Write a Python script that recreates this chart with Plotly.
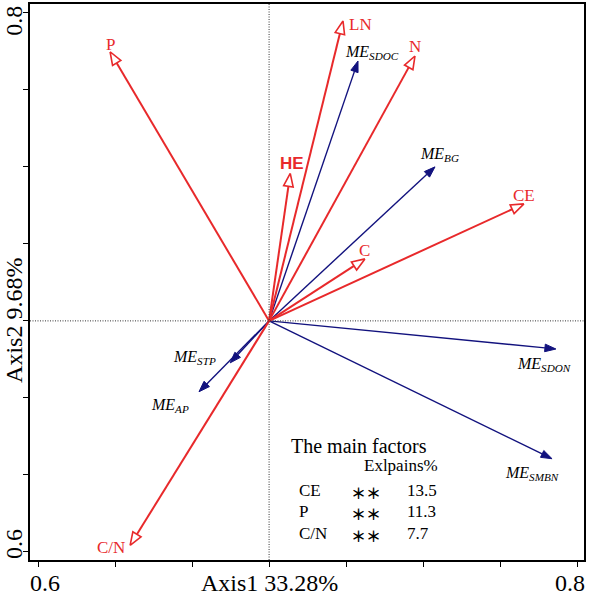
import numpy as np
import plotly.graph_objects as go

# ---------------- data ----------------
env_names = ["P", "LN", "N", "HE", "CE", "C", "C/N"]
env_x = [-0.413, 0.192, 0.379, 0.055, 0.662, 0.249, -0.361]
env_y = [0.699, 0.779, 0.688, 0.383, 0.304, 0.161, -0.583]

resp_names = ["SDOC", "BG", "SDON", "SMBN", "STP", "AP"]
resp_x = [0.231, 0.431, 0.745, 0.735, -0.101, -0.182]
resp_y = [0.675, 0.400, -0.073, -0.358, -0.109, -0.184]

x_ticks = [-0.6, -0.4, -0.2, 0.0, 0.2, 0.4, 0.6, 0.8]
x_ticktext = ["0.6", "", "", "", "", "", "", "0.8"]
y_ticks = [-0.6, -0.4, -0.2, 0.0, 0.2, 0.4, 0.6, 0.8]
y_ticktext = ["0.6", "", "", "", "", "", "", "0.8"]

x_title = "Axis1 33.28%"
y_title = "Axis2 9.68%"

table_title = "The main factors"
table_header = "Exlpains%"
table_factors = ["CE", "P", "C/N"]
table_sig = ["＊＊", "＊＊", "＊＊"]
table_explains = ["13.5", "11.3", "7.7"]

# ---------------- styling ----------------
RED = "#e8292b"
BLUE = "#12127e"
SERIF = "Liberation Serif"
W, H = 590, 599
ML, MR, MT, MB = 30, 6, 4, 39
XR = [-0.621, 0.818]
YR = [-0.621, 0.823]
PX = (W - ML - MR) / (XR[1] - XR[0])  # px per data unit

# label offsets (px, right/down positive) relative to arrow tip
env_off = {"P": (0, -7), "LN": (17, 4), "N": (0, -9), "HE": (2, -10),
           "CE": (0, -8), "C": (0, -8), "C/N": (-19, 2)}
resp_off = {"SDOC": (14, -8), "BG": (4, -12), "SDON": (-12, 15),
            "SMBN": (-20, 15), "STP": (-36, -5), "AP": (-29, 14)}

fig = go.Figure()


def head(x, y, L, hw):
    v = np.array([x, y])
    n = np.linalg.norm(v)
    u = v / n
    p = np.array([-u[1], u[0]])
    Ld, hd = L / PX, hw / PX
    base = v - Ld * u
    a = base + hd * p
    b = base - hd * p
    return base, [x, a[0], b[0], x], [y, a[1], b[1], y]


# dotted axes through origin
fig.add_shape(type="line", xref="x", yref="paper", x0=0, x1=0, y0=0, y1=1,
              line=dict(color="#333", width=1, dash="1px,1.5px"))
fig.add_shape(type="line", xref="paper", yref="y", x0=0, x1=1, y0=0, y1=0,
              line=dict(color="#333", width=1, dash="1px,1.5px"))

# response (blue, filled heads)
for nm, x, y in zip(resp_names, resp_x, resp_y):
    base, hx, hy = head(x, y, 11, 3.8)
    fig.add_trace(go.Scatter(x=[0, base[0]], y=[0, base[1]], mode="lines",
                             line=dict(color=BLUE, width=1.4), hoverinfo="skip",
                             showlegend=False))
    fig.add_trace(go.Scatter(x=hx, y=hy, mode="lines", fill="toself",
                             fillcolor=BLUE, line=dict(color=BLUE, width=1),
                             hoverinfo="skip", showlegend=False))
    dx, dy = resp_off[nm]
    fig.add_annotation(x=x, y=y, xref="x", yref="y", showarrow=False,
                       text=f"<i>ME<sub>{nm}</sub></i>", xshift=dx, yshift=-dy,
                       font=dict(family=SERIF, size=16, color="black"))

# environmental (red, open heads)
for nm, x, y in zip(env_names, env_x, env_y):
    base, hx, hy = head(x, y, 13, 4.8)
    fig.add_trace(go.Scatter(x=[0, base[0]], y=[0, base[1]], mode="lines",
                             line=dict(color=RED, width=2), hoverinfo="skip",
                             showlegend=False))
    fig.add_trace(go.Scatter(x=hx, y=hy, mode="lines", fill="toself",
                             fillcolor="white", line=dict(color=RED, width=1.6),
                             hoverinfo="skip", showlegend=False))
    dx, dy = env_off[nm]
    if nm == "HE":
        f = dict(family="Liberation Sans", size=17, color=RED)
        txt = "<b>HE</b>"
    else:
        f = dict(family=SERIF, size=17, color=RED)
        txt = nm
    fig.add_annotation(x=x, y=y, xref="x", yref="y", showarrow=False,
                       text=txt, xshift=dx, yshift=-dy, font=f)

# tick labels (edge labels pulled slightly inward, as in the reference)
TF = dict(family=SERIF, size=24, color="black")
for i, (v, t) in enumerate(zip(x_ticks, x_ticktext)):
    if t:
        inward = 7 if i == 0 else -7
        fig.add_annotation(x=v, y=0, xref="x", yref="paper", showarrow=False,
                           text=t, yshift=-23, xshift=inward, yanchor="middle",
                           xanchor="center", font=TF)
for i, (v, t) in enumerate(zip(y_ticks, y_ticktext)):
    if t:
        inward = 8 if i == 0 else -8
        fig.add_annotation(x=0, y=v, xref="paper", yref="y", showarrow=False,
                           text=t, xshift=-16, yshift=inward, textangle=-90,
                           xanchor="center", yanchor="middle", font=TF)

# axis titles
fig.add_annotation(x=0, y=0, xref="x", yref="paper", yshift=-23,
                   showarrow=False, text=x_title, yanchor="middle",
                   font=TF)
fig.add_annotation(x=0, y=0, xref="paper", yref="y", xshift=-16,
                   showarrow=False, text=y_title, textangle=-90,
                   xanchor="center", font=TF)


# table
def pxx(px):
    return (px - ML) / (W - ML - MR)


def pxy(py):
    return (H - MB - py) / (H - MT - MB)


fig.add_annotation(x=pxx(289), y=pxy(446), xref="paper", yref="paper",
                   xanchor="left", yanchor="middle", showarrow=False,
                   text=table_title, font=dict(family=SERIF, size=20, color="black"))
fig.add_annotation(x=pxx(362), y=pxy(465), xref="paper", yref="paper",
                   xanchor="left", yanchor="middle", showarrow=False,
                   text=table_header, font=dict(family=SERIF, size=17, color="black"))
for i, (f_, s_, e_) in enumerate(zip(table_factors, table_sig, table_explains)):
    yy = pxy(490 + i * 21.5)
    fig.add_annotation(x=pxx(297), y=yy, xref="paper", yref="paper",
                       xanchor="left", yanchor="middle", showarrow=False,
                       text=f_, font=dict(family=SERIF, size=17, color="black"))
    fig.add_annotation(x=pxx(349), y=yy, xref="paper", yref="paper",
                       xanchor="left", yanchor="middle", showarrow=False,
                       yshift=-2,
                       text=f"<b>{s_}</b>",
                       font=dict(family="Noto Sans CJK SC", size=15, color="black"))
    fig.add_annotation(x=pxx(405), y=yy, xref="paper", yref="paper",
                       xanchor="left", yanchor="middle", showarrow=False,
                       text=e_, font=dict(family=SERIF, size=17, color="black"))

axis_common = dict(showgrid=False, zeroline=False, showline=True,
                   linecolor="black", linewidth=1.5, mirror=True,
                   ticks="outside", ticklen=5, tickwidth=1.2, tickcolor="black",
                   automargin=False, showticklabels=False)

fig.update_layout(
    width=W, height=H,
    margin=dict(l=ML, r=MR, t=MT, b=MB),
    paper_bgcolor="white", plot_bgcolor="white",
    showlegend=False,
    xaxis=dict(range=XR, tickvals=x_ticks, **axis_common),
    yaxis=dict(range=YR, tickvals=y_ticks, **axis_common),
)

fig.write_html("out.html")
